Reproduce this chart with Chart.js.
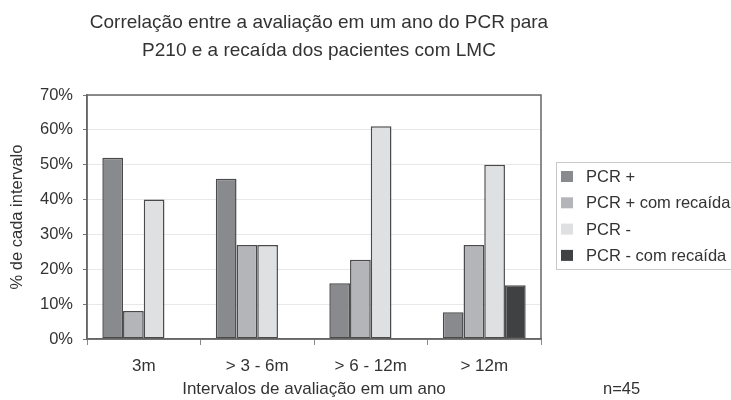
<!DOCTYPE html>
<html>
<head>
<meta charset="utf-8">
<script src="https://cdn.jsdelivr.net/npm/chart.js@4.4.0/dist/chart.umd.min.js"></script>
<style>
  html, body { margin: 0; padding: 0; background: #fff; }
</style>
</head>
<body>
<canvas id="barChart" width="731" height="400"></canvas>
<script>
const categories = ['3m', '> 3 - 6m', '> 6 - 12m', '> 12m'];
const pcrPos = [52, 46, 16, 7.7];
const pcrPosRecaida = [8, 27, 22.7, 27];
const pcrNeg = [40, 27, 61, 50];
const pcrNegRecaida = [null, null, null, 15.4];
const yMax = 70;
const yStep = 10;
const titleLines = ['Correlação entre a avaliação em um ano do PCR para', 'P210 e a recaída dos pacientes com LMC'];

const FONT = '"Liberation Sans", Arial, sans-serif';
const TEXT = '#333';

// frame around the plot area
const frame = {
  id: 'frame',
  afterDatasetsDraw(chart) {
    const { ctx, chartArea: a } = chart;
    ctx.save();
    ctx.strokeStyle = '#666';
    ctx.lineWidth = 1.5;
    ctx.strokeRect(a.left, a.top, a.right - a.left, a.bottom - a.top);
    ctx.restore();
  }
};

// title, boxed legend on the right, n=45 note
const extras = {
  id: 'extras',
  afterDraw(chart) {
    const ctx = chart.ctx;
    ctx.save();
    ctx.fillStyle = TEXT;
    ctx.font = '19px ' + FONT;
    ctx.textAlign = 'center';
    ctx.textBaseline = 'alphabetic';
    titleLines.forEach((t, i) => ctx.fillText(t, 319, 28 + i * 28));

    ctx.textAlign = 'left';
    ctx.strokeStyle = '#c8c8c8';
    ctx.lineWidth = 1;
    ctx.strokeRect(556.5, 162.5, 190, 107);
    ctx.font = '16.5px ' + FONT;
    ctx.textBaseline = 'middle';
    chart.data.datasets.forEach((ds, i) => {
      const y = 176.5 + i * 26.3;
      ctx.fillStyle = ds.backgroundColor;
      ctx.fillRect(561, y - 5.5, 12, 11);
      ctx.fillStyle = TEXT;
      ctx.fillText(ds.label, 586, y + 1);
    });
    ctx.fillText('n=45', 603, 389);
    ctx.restore();
  }
};

const ctx = document.getElementById('barChart').getContext('2d');
new Chart(ctx, {
  type: 'bar',
  data: {
    labels: categories,
    datasets: [
      { label: 'PCR +', data: pcrPos, backgroundColor: '#898a8e' },
      { label: 'PCR + com recaída', data: pcrPosRecaida, backgroundColor: '#b4b5b8' },
      { label: 'PCR -', data: pcrNeg, backgroundColor: '#dfe0e2' },
      { label: 'PCR - com recaída', data: pcrNegRecaida, backgroundColor: '#404143' }
    ].map(d => Object.assign(d, {
      borderColor: '#4a4a4a',
      borderWidth: 1.5,
      borderSkipped: false,
      categoryPercentage: 0.73,
      barPercentage: 1
    }))
  },
  options: {
    responsive: false,
    animation: false,
    layout: { padding: { left: 0, right: 190, top: 95, bottom: 0 } },
    plugins: {
      legend: { display: false },
      tooltip: { enabled: false },
      title: { display: false }
    },
    scales: {
      x: {
        afterFit(axis) { axis.height = 61; },
        grid: { drawOnChartArea: false, tickLength: 6, tickColor: '#888', offset: true },
        border: { color: '#666', width: 1.5 },
        ticks: { color: TEXT, font: { family: FONT, size: 17 }, padding: 11 },
        title: {
          display: true,
          text: 'Intervalos de avaliação em um ano',
          color: TEXT,
          font: { family: FONT, size: 17, lineHeight: 1.2 },
          padding: { top: 0, bottom: 0 }
        }
      },
      y: {
        min: 0,
        max: yMax,
        afterFit(axis) { axis.width = 87; },
        grid: { color: '#e8e8e8', tickLength: 4, tickColor: '#777' },
        border: { color: '#666', width: 1.5 },
        ticks: {
          stepSize: yStep,
          color: TEXT,
          font: { family: FONT, size: 16.5 },
          padding: 10,
          callback: v => v + '%'
        },
        title: {
          display: true,
          text: '% de cada intervalo',
          color: TEXT,
          font: { family: FONT, size: 16.5, lineHeight: 1.2 },
          padding: { top: 8, bottom: 0 }
        }
      }
    }
  },
  plugins: [frame, extras]
});
</script>
</body>
</html>
